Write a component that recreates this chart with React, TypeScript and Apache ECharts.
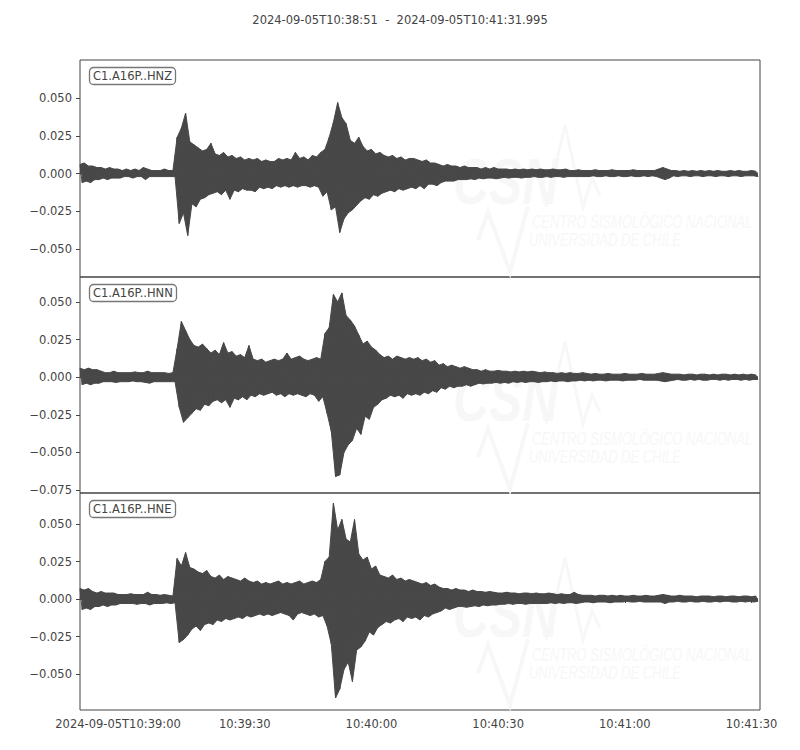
import React, { useEffect, useRef } from "react";
import * as echarts from "echarts";

const TITLE = "2024-09-05T10:38:51  -  2024-09-05T10:41:31.995";
const TRACE_LABELS = ["C1.A16P..HNZ", "C1.A16P..HNN", "C1.A16P..HNE"];
const DURATION = 160.995; // seconds after 10:38:51
const X_TICK_SECONDS = [9, 39, 69, 99, 129, 159];
const X_TICK_LABELS = ["2024-09-05T10:39:00", "10:39:30", "10:40:00", "10:40:30", "10:41:00", "10:41:30"];

const Y_TICKS_HNZ = [-0.05, -0.025, 0, 0.025, 0.05];
const Y_TICKS_HNN = [-0.075, -0.05, -0.025, 0, 0.025, 0.05];
const Y_TICKS_HNE = [-0.05, -0.025, 0, 0.025, 0.05];
const Y_RANGE_HNZ = [-0.0685, 0.0752];
const Y_RANGE_HNN = [-0.077, 0.0666];
const Y_RANGE_HNE = [-0.074, 0.0707];

// per-second envelope (max at t, min at t + 0.5 s), t = 0..160 s
const HNZ_HI = [
  0.006, 0.007, 0.005, 0.005, 0.004, 0.004, 0.003, 0.004, 0.003, 0.003,
  0.002, 0.003, 0.002, 0.003, 0.002, 0.004, 0.003, 0.002, 0.002, 0.002,
  0.003, 0.002, 0.002, 0.024, 0.030, 0.040, 0.021, 0.019, 0.017, 0.015,
  0.016, 0.020, 0.013, 0.012, 0.014, 0.011, 0.012, 0.010, 0.011, 0.009,
  0.010, 0.009, 0.010, 0.008, 0.009, 0.008, 0.008, 0.010, 0.009, 0.010,
  0.009, 0.014, 0.010, 0.011, 0.009, 0.012, 0.011, 0.014, 0.016, 0.024,
  0.034, 0.047, 0.037, 0.033, 0.022, 0.020, 0.024, 0.018, 0.015, 0.016,
  0.013, 0.014, 0.012, 0.011, 0.012, 0.010, 0.011, 0.009, 0.010, 0.010,
  0.009, 0.008, 0.009, 0.007, 0.007, 0.006, 0.005, 0.006, 0.005, 0.005,
  0.004, 0.005, 0.004, 0.004, 0.004, 0.003, 0.004, 0.003, 0.004, 0.003,
  0.003, 0.003, 0.0025, 0.003, 0.0025, 0.003, 0.0025, 0.003, 0.0025, 0.003,
  0.0025, 0.0025, 0.003, 0.0025, 0.0025, 0.003, 0.002, 0.002, 0.0025, 0.002,
  0.002, 0.002, 0.0025, 0.002, 0.002, 0.002, 0.0025, 0.002, 0.002, 0.002,
  0.002, 0.0025, 0.002, 0.002, 0.002, 0.002, 0.002, 0.003, 0.004, 0.003,
  0.002, 0.002, 0.0015, 0.002, 0.0015, 0.002, 0.0015, 0.002, 0.0015, 0.002,
  0.0015, 0.002, 0.0015, 0.0015, 0.002, 0.0015, 0.002, 0.0015, 0.0015, 0.002, 0.0015,
];
const HNZ_LO = [
  -0.006, -0.005, -0.006, -0.004, -0.004, -0.003, -0.004, -0.003, -0.003, -0.003,
  -0.002, -0.002, -0.003, -0.002, -0.002, -0.004, -0.002, -0.002, -0.002, -0.002,
  -0.002, -0.002, -0.002, -0.033, -0.026, -0.041, -0.020, -0.022, -0.017, -0.016,
  -0.014, -0.013, -0.012, -0.014, -0.011, -0.017, -0.011, -0.012, -0.010, -0.011,
  -0.011, -0.012, -0.009, -0.010, -0.009, -0.010, -0.008, -0.009, -0.008, -0.009,
  -0.008, -0.009, -0.008, -0.008, -0.009, -0.008, -0.009, -0.015, -0.012, -0.024,
  -0.022, -0.039, -0.030, -0.026, -0.024, -0.021, -0.018, -0.016, -0.017, -0.014,
  -0.015, -0.013, -0.012, -0.011, -0.012, -0.010, -0.011, -0.010, -0.009, -0.010,
  -0.008, -0.010, -0.007, -0.007, -0.008, -0.006, -0.005, -0.005, -0.005, -0.004,
  -0.004, -0.004, -0.0035, -0.004, -0.003, -0.0035, -0.003, -0.003, -0.0035, -0.003,
  -0.0025, -0.003, -0.0025, -0.0025, -0.003, -0.0025, -0.0025, -0.002, -0.0025, -0.0025,
  -0.002, -0.0025, -0.002, -0.002, -0.0025, -0.002, -0.002, -0.002, -0.002, -0.002,
  -0.002, -0.0015, -0.002, -0.002, -0.0015, -0.002, -0.002, -0.0015, -0.002, -0.002,
  -0.0015, -0.002, -0.002, -0.0015, -0.002, -0.0015, -0.002, -0.003, -0.004, -0.003,
  -0.0015, -0.002, -0.0015, -0.0015, -0.002, -0.0015, -0.0015, -0.002, -0.0015, -0.0015,
  -0.002, -0.0015, -0.0015, -0.002, -0.0015, -0.0015, -0.002, -0.0015, -0.0015, -0.0015, -0.002,
];
const HNN_HI = [
  0.006, 0.005, 0.006, 0.005, 0.005, 0.004, 0.003, 0.003, 0.004, 0.003,
  0.003, 0.003, 0.003, 0.0035, 0.003, 0.003, 0.004, 0.003, 0.003, 0.003,
  0.003, 0.0025, 0.003, 0.019, 0.037, 0.031, 0.025, 0.021, 0.020, 0.022,
  0.019, 0.016, 0.018, 0.015, 0.023, 0.016, 0.017, 0.014, 0.015, 0.013,
  0.021, 0.012, 0.011, 0.012, 0.010, 0.011, 0.012, 0.011, 0.012, 0.016,
  0.012, 0.013, 0.014, 0.012, 0.011, 0.012, 0.013, 0.012, 0.029, 0.033,
  0.055, 0.050, 0.056, 0.041, 0.038, 0.034, 0.028, 0.022, 0.024, 0.020,
  0.018, 0.015, 0.013, 0.014, 0.012, 0.014, 0.013, 0.012, 0.013, 0.012,
  0.013, 0.011, 0.012, 0.010, 0.011, 0.008, 0.009, 0.007, 0.008, 0.007,
  0.006, 0.007, 0.006, 0.005, 0.005, 0.004, 0.005, 0.004, 0.004, 0.0045,
  0.004, 0.004, 0.0035, 0.004, 0.0035, 0.004, 0.0035, 0.004, 0.0035, 0.003,
  0.0035, 0.003, 0.003, 0.0025, 0.003, 0.0025, 0.003, 0.0025, 0.0025, 0.003,
  0.0025, 0.002, 0.0025, 0.002, 0.002, 0.0025, 0.002, 0.002, 0.002, 0.0025,
  0.002, 0.002, 0.002, 0.0025, 0.002, 0.002, 0.002, 0.0025, 0.003, 0.0025,
  0.002, 0.002, 0.002, 0.0015, 0.002, 0.002, 0.0015, 0.002, 0.002, 0.0015,
  0.002, 0.0015, 0.002, 0.002, 0.0015, 0.002, 0.0015, 0.002, 0.0015, 0.002, 0.0015,
];
const HNN_LO = [
  -0.005, -0.004, -0.005, -0.004, -0.004, -0.003, -0.003, -0.003, -0.0035, -0.003,
  -0.003, -0.003, -0.0025, -0.003, -0.003, -0.0035, -0.004, -0.003, -0.003, -0.003,
  -0.003, -0.003, -0.003, -0.020, -0.030, -0.027, -0.024, -0.021, -0.022, -0.018,
  -0.019, -0.016, -0.015, -0.017, -0.015, -0.020, -0.014, -0.015, -0.013, -0.015,
  -0.012, -0.013, -0.011, -0.012, -0.011, -0.010, -0.012, -0.011, -0.013, -0.011,
  -0.012, -0.011, -0.012, -0.013, -0.011, -0.012, -0.016, -0.013, -0.024, -0.036,
  -0.066, -0.065, -0.050, -0.045, -0.042, -0.034, -0.038, -0.026, -0.028, -0.020,
  -0.018, -0.015, -0.014, -0.012, -0.013, -0.012, -0.014, -0.011, -0.012, -0.011,
  -0.012, -0.010, -0.011, -0.009, -0.010, -0.007, -0.008, -0.006, -0.007, -0.006,
  -0.006, -0.005, -0.006, -0.005, -0.004, -0.0045, -0.004, -0.004, -0.0035, -0.004,
  -0.0035, -0.004, -0.003, -0.0035, -0.003, -0.0035, -0.003, -0.003, -0.0035, -0.003,
  -0.003, -0.0025, -0.003, -0.0025, -0.0025, -0.003, -0.0025, -0.0025, -0.002, -0.0025,
  -0.002, -0.0025, -0.002, -0.002, -0.0025, -0.002, -0.002, -0.002, -0.0025, -0.002,
  -0.002, -0.002, -0.0015, -0.002, -0.002, -0.002, -0.002, -0.0025, -0.003, -0.0025,
  -0.002, -0.0015, -0.002, -0.002, -0.0015, -0.002, -0.0015, -0.002, -0.002, -0.0015,
  -0.0015, -0.002, -0.0015, -0.002, -0.0015, -0.0015, -0.002, -0.0015, -0.002, -0.0015, -0.0015,
];
const HNE_HI = [
  0.007, 0.006, 0.007, 0.005, 0.004, 0.005, 0.004, 0.004, 0.004, 0.003,
  0.003, 0.003, 0.0035, 0.003, 0.003, 0.003, 0.0045, 0.003, 0.003, 0.0025,
  0.003, 0.0025, 0.002, 0.027, 0.022, 0.031, 0.021, 0.020, 0.018, 0.017,
  0.019, 0.015, 0.014, 0.016, 0.013, 0.015, 0.014, 0.013, 0.012, 0.014,
  0.012, 0.011, 0.012, 0.010, 0.011, 0.010, 0.011, 0.012, 0.010, 0.011,
  0.010, 0.011, 0.012, 0.010, 0.011, 0.012, 0.011, 0.013, 0.025, 0.028,
  0.064, 0.046, 0.053, 0.040, 0.038, 0.053, 0.030, 0.026, 0.028, 0.020,
  0.022, 0.016, 0.015, 0.014, 0.016, 0.013, 0.014, 0.012, 0.013, 0.012,
  0.011, 0.010, 0.011, 0.009, 0.010, 0.008, 0.007, 0.007, 0.006, 0.007,
  0.006, 0.006, 0.005, 0.006, 0.005, 0.005, 0.0045, 0.005, 0.0045, 0.004,
  0.004, 0.0045, 0.004, 0.004, 0.0035, 0.004, 0.004, 0.0035, 0.004, 0.0035,
  0.0035, 0.004, 0.0035, 0.003, 0.0035, 0.003, 0.003, 0.0045, 0.003, 0.0025,
  0.0025, 0.0025, 0.002, 0.0025, 0.0025, 0.002, 0.0025, 0.002, 0.0025, 0.002,
  0.002, 0.0025, 0.002, 0.002, 0.0025, 0.002, 0.002, 0.0025, 0.003, 0.0025,
  0.002, 0.002, 0.0025, 0.002, 0.002, 0.002, 0.0015, 0.002, 0.002, 0.002,
  0.0015, 0.002, 0.002, 0.0015, 0.002, 0.002, 0.0015, 0.002, 0.002, 0.0015, 0.002,
];
const HNE_LO = [
  -0.007, -0.006, -0.007, -0.005, -0.005, -0.004, -0.005, -0.004, -0.004, -0.003,
  -0.003, -0.003, -0.003, -0.0035, -0.003, -0.003, -0.004, -0.003, -0.003, -0.003,
  -0.0025, -0.003, -0.0025, -0.029, -0.027, -0.024, -0.020, -0.018, -0.021, -0.017,
  -0.016, -0.017, -0.014, -0.015, -0.013, -0.014, -0.013, -0.012, -0.013, -0.011,
  -0.012, -0.011, -0.010, -0.011, -0.010, -0.011, -0.010, -0.009, -0.010, -0.011,
  -0.014, -0.010, -0.009, -0.010, -0.011, -0.010, -0.012, -0.011, -0.018, -0.030,
  -0.066, -0.060, -0.047, -0.042, -0.055, -0.034, -0.032, -0.028, -0.022, -0.024,
  -0.019, -0.017, -0.015, -0.016, -0.014, -0.013, -0.015, -0.012, -0.013, -0.012,
  -0.014, -0.011, -0.012, -0.010, -0.009, -0.008, -0.006, -0.007, -0.006, -0.005,
  -0.005, -0.0055, -0.005, -0.0045, -0.005, -0.004, -0.0045, -0.004, -0.004, -0.0035,
  -0.0035, -0.003, -0.0035, -0.003, -0.003, -0.0035, -0.003, -0.003, -0.003, -0.003,
  -0.003, -0.0025, -0.003, -0.0025, -0.003, -0.0025, -0.0025, -0.003, -0.0025, -0.002,
  -0.002, -0.0025, -0.002, -0.002, -0.002, -0.0025, -0.002, -0.002, -0.002, -0.0015,
  -0.002, -0.002, -0.0015, -0.002, -0.002, -0.002, -0.002, -0.002, -0.003, -0.002,
  -0.002, -0.0015, -0.002, -0.002, -0.0015, -0.002, -0.002, -0.0015, -0.002, -0.002,
  -0.0015, -0.002, -0.0015, -0.0015, -0.002, -0.002, -0.0015, -0.002, -0.0015, -0.002, -0.0015,
];

const WAVE = "#484848";
const INK = "#444444";
const FONT = "DejaVu Sans";
const GRID_TOPS = [60, 277, 493];
const GRID_HEIGHTS = [217, 216, 217];

const TRACES = [
  { label: TRACE_LABELS[0], hi: HNZ_HI, lo: HNZ_LO, range: Y_RANGE_HNZ, ticks: Y_TICKS_HNZ },
  { label: TRACE_LABELS[1], hi: HNN_HI, lo: HNN_LO, range: Y_RANGE_HNN, ticks: Y_TICKS_HNN },
  { label: TRACE_LABELS[2], hi: HNE_HI, lo: HNE_LO, range: Y_RANGE_HNE, ticks: Y_TICKS_HNE },
];

const fmtY = (v: number) => {
  const s = Math.abs(v) < 1e-9 ? "0.000" : v.toFixed(3);
  return s.replace("-", "\u2212");
};

function watermark(dy: number) {
  const faint = "#f7f7f7";
  const wmFont = "Liberation Sans";
  return {
    type: "group",
    x: 0,
    y: dy,
    silent: true,
    z: 0,
    children: [
      {
        type: "text",
        x: 453,
        y: 150,
        scaleX: 0.78,
        style: { text: "CSN", fill: faint, fontSize: 64, fontWeight: "bold", fontStyle: "italic", fontFamily: wmFont },
      },
      {
        type: "polyline",
        shape: { points: [[478, 240], [488, 212], [510, 272], [528, 206]] },
        style: { stroke: faint, lineWidth: 4, fill: null },
      },
      {
        type: "polyline",
        shape: { points: [[546, 207], [565, 125], [583, 207], [592, 178], [600, 195]] },
        style: { stroke: faint, lineWidth: 3, fill: null },
      },
      {
        type: "text",
        x: 532,
        y: 213,
        scaleX: 0.72,
        style: { text: "CENTRO SISMOLÓGICO NACIONAL", fill: faint, fontSize: 18, fontStyle: "italic", fontFamily: wmFont },
      },
      {
        type: "text",
        x: 529,
        y: 231,
        scaleX: 0.72,
        style: { text: "UNIVERSIDAD DE CHILE", fill: faint, fontSize: 18, fontStyle: "italic", fontFamily: wmFont },
      },
    ],
  };
}

function buildOption() {
  const grid: any[] = [];
  const xAxis: any[] = [];
  const yAxis: any[] = [];
  const series: any[] = [];
  const titles: any[] = [
    {
      text: TITLE,
      left: "center",
      top: 9,
      textStyle: { fontFamily: FONT, fontSize: 11.5, fontWeight: "normal", color: INK },
    },
  ];
  TRACES.forEach((tr, i) => {
    grid.push({
      left: 80,
      top: GRID_TOPS[i],
      width: 680,
      height: GRID_HEIGHTS[i],
      show: true,
      borderColor: INK,
      borderWidth: 1,
      backgroundColor: "transparent",
    });
    const isLast = i === TRACES.length - 1;
    xAxis.push({
      type: "value",
      gridIndex: i,
      min: 0,
      max: DURATION,
      axisLine: { show: false },
      splitLine: { show: false },
      axisTick: { show: isLast, length: 4, customValues: X_TICK_SECONDS, lineStyle: { color: INK } },
      axisLabel: {
        show: isLast,
        customValues: X_TICK_SECONDS,
        formatter: (v: number) => {
          const k = X_TICK_SECONDS.indexOf(Math.round(v));
          return k >= 0 ? X_TICK_LABELS[k] : "";
        },
        fontFamily: FONT,
        fontSize: 11.5,
        color: INK,
        margin: 8,
      },
    });
    yAxis.push({
      type: "value",
      gridIndex: i,
      min: tr.range[0],
      max: tr.range[1],
      axisLine: { show: false },
      splitLine: { show: false },
      axisTick: { show: true, length: 4, customValues: tr.ticks, lineStyle: { color: INK } },
      axisLabel: {
        customValues: tr.ticks,
        formatter: fmtY,
        fontFamily: FONT,
        fontSize: 11.5,
        color: INK,
        margin: 8,
      },
    });
    const upper = tr.hi.map((h, k) => [k, h]);
    const lower = tr.lo.map((l, k) => [k + 0.5, l]);
    const zig: number[][] = [];
    tr.hi.forEach((h, k) => {
      zig.push([k, h]);
      zig.push([k + 0.5, tr.lo[k]]);
    });
    const base = { type: "line", xAxisIndex: i, yAxisIndex: i, showSymbol: false, silent: true, animation: false };
    series.push({ ...base, data: upper, lineStyle: { width: 1, color: WAVE }, areaStyle: { color: WAVE, opacity: 1 } });
    series.push({ ...base, data: lower, lineStyle: { width: 1, color: WAVE }, areaStyle: { color: WAVE, opacity: 1 } });
    series.push({ ...base, data: zig, lineStyle: { width: 1, color: WAVE } });
    // baseline through the trace, closing the seam between the two filled halves
    series.push({ ...base, data: [[0, 0], [tr.hi.length - 0.5, 0]], lineStyle: { width: 2, color: WAVE } });
    titles.push({
      text: tr.label,
      left: 89,
      top: GRID_TOPS[i] + 7,
      padding: [3, 4, 3, 4],
      borderColor: "#777",
      borderWidth: 1.3,
      borderRadius: 4,
      backgroundColor: "#ffffff",
      textStyle: { fontFamily: FONT, fontSize: 11.5, fontWeight: "normal", color: INK },
    });
  });
  return {
    animation: false,
    backgroundColor: "#ffffff",
    textStyle: { fontFamily: FONT },
    title: titles,
    grid,
    xAxis,
    yAxis,
    series,
    graphic: GRID_TOPS.map((top) => watermark(top - 60)),
  };
}

export default function App() {
  const ref = useRef<HTMLDivElement>(null);
  useEffect(() => {
    if (!ref.current) return;
    const chart = echarts.init(ref.current, undefined, { renderer: "svg" });
    chart.setOption(buildOption() as any);
    return () => chart.dispose();
  }, []);
  return <div ref={ref} style={{ position: "absolute", left: 0, top: 0, width: 800, height: 750 }} />;
}
